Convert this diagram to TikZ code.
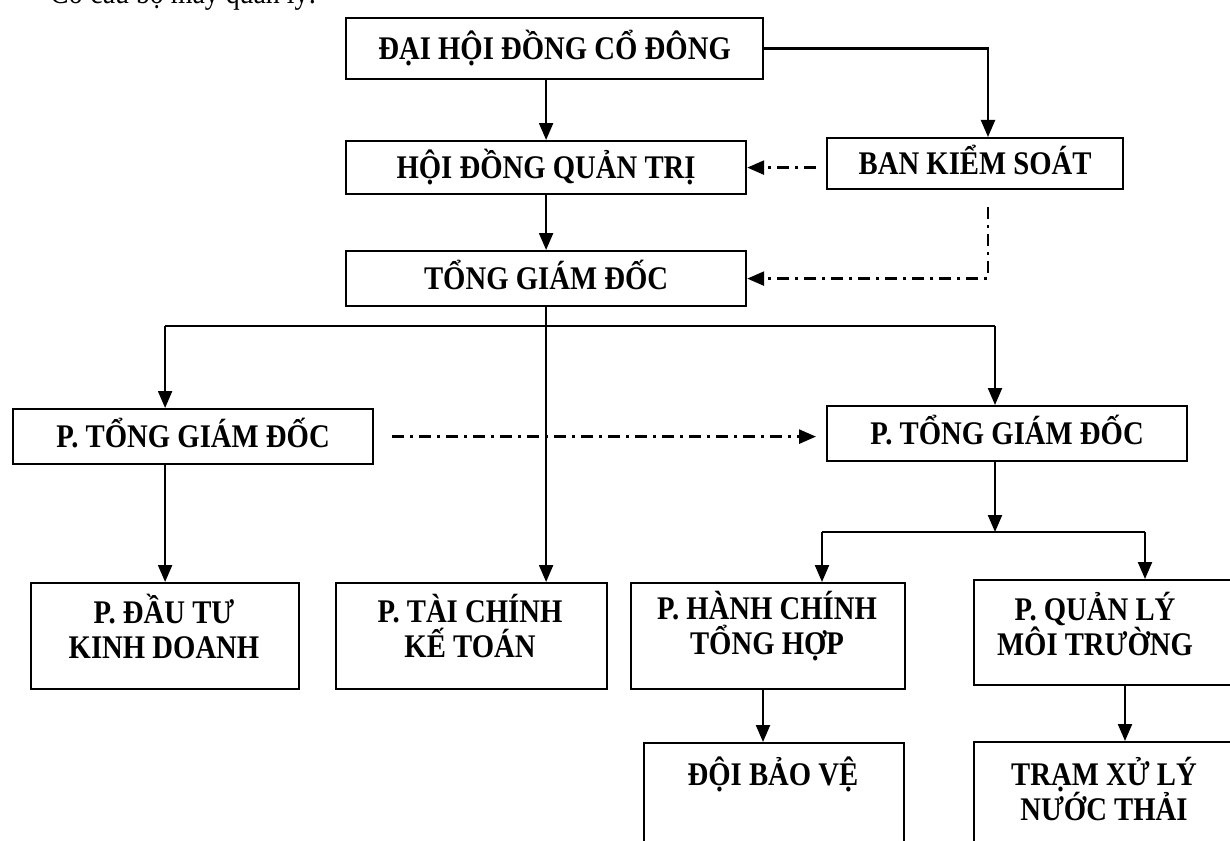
\documentclass[tikz,border=0pt]{standalone}
\usepackage{fontspec}
\setmainfont{Liberation Serif}
\newfontfamily\tallserif{Liberation Serif}[FakeStretch=0.87]
\usetikzlibrary{arrows.meta}
\begin{document}
\begin{tikzpicture}[x=1pt,y=-1pt,
  box/.style={draw, line width=2.2pt, inner sep=0pt, anchor=north west},
  one/.style={font=\tallserif\fontsize{33}{35}\selectfont\bfseries, text height=21.5pt, text depth=0pt},
  lbl/.style={font=\tallserif\fontsize{33}{35}\selectfont\bfseries, align=center, inner sep=0pt},
  ln/.style={line width=2.2pt},
  arr/.style={line width=2.2pt, -{Triangle[length=17pt,width=14pt]}},
  darr/.style={line width=2.6pt, dash pattern=on 12pt off 6pt on 3pt off 6pt, -{Triangle[length=17pt,width=14pt]}},
]
\useasboundingbox (0,0) rectangle (1230,840);
\fill[white] (0,0) rectangle (1230,840);

\node[anchor=base west, inner sep=0pt, font=\tallserif\fontsize{32}{34}\selectfont] (title) at (50,4) {Cơ cấu bộ máy quản lý:};

% top level boxes
\node[box, one, minimum width=417, minimum height=61] (dhd) at (345,17) {ĐẠI HỘI ĐỒNG CỔ ĐÔNG};
\node[box, one, minimum width=400, minimum height=53] (hdqt) at (345,140) {HỘI ĐỒNG QUẢN TRỊ};
\node[box, one, minimum width=296, minimum height=51] (bks) at (826,137) {BAN KIỂM SOÁT};
\node[box, one, minimum width=400, minimum height=55] (tgd) at (345,250) {TỔNG GIÁM ĐỐC};
\node[box, one, minimum width=360, minimum height=55] (ptl) at (12,408) {P. TỔNG GIÁM ĐỐC};
\node[box, one, minimum width=360, minimum height=55] (ptr) at (826,405) {P. TỔNG GIÁM ĐỐC};

% lower boxes
\node[box, minimum width=268, minimum height=106] (dtkd) at (30,582) {};
\node[box, minimum width=271, minimum height=106] (tckt) at (335,582) {};
\node[box, minimum width=274, minimum height=106] (hcth) at (630,582) {};
\node[box, minimum width=265, minimum height=105] (qlmt) at (973,579) {};
\node[box, minimum width=260, minimum height=120] (dbv) at (643,742) {};
\node[box, minimum width=265, minimum height=120] (txl) at (973,741) {};

\node[lbl] (dtkdT) at (164,626) {P. ĐẦU TƯ\\KINH DOANH};
\node[lbl] (tcktT) at (470,626) {P. TÀI CHÍNH\\KẾ TOÁN};
\node[lbl] (hcthT) at (767,626) {P. HÀNH CHÍNH\\TỔNG HỢP};
\node[lbl] (qlmtT) at (1095,624) {P. QUẢN LÝ\\MÔI TRƯỜNG};
\node[lbl, one] (dbvT) at (773,775) {ĐỘI BẢO VỆ};
\node[lbl] (txlT) at (1104,789) {TRẠM XỬ LÝ\\NƯỚC THẢI};

% junctions
\coordinate (j1) at (546,326);
\coordinate (jr) at (995,326);
\coordinate (j2) at (995,532);
\coordinate (bkx) at (988,0);
\coordinate (hx) at (822,0);
\coordinate (qx) at (1145,0);

% connectors
\draw[arr] (hdqt.north |- dhd.south) -- (hdqt.north);
\draw[arr] (dhd.east) -| (bkx |- bks.north);
\draw[darr] ([xshift=-10pt]bks.west |- hdqt.east) -- (hdqt.east);
\draw[arr] (hdqt.south) -- (tgd.north);
\draw[darr] ([yshift=-17pt]bkx |- bks.south) |- (tgd.east);

\draw[arr] (tgd.south) -- (tgd.south |- tckt.north);
\draw[ln] (dtkd.north |- j1) -- (jr);
\draw[arr] (dtkd.north |- j1) -- (dtkd.north |- ptl.north);
\draw[arr] (jr) -- (jr |- ptr.north);
\draw[darr] ([xshift=18pt]ptl.east) -- ([xshift=-10pt]ptr.west |- ptl.east);

\draw[arr] (dtkd.north |- ptl.south) -- (dtkd.north);
\draw[arr] (jr |- ptr.south) -- (j2);
\draw[ln] (hx |- j2) -- (qx |- j2);
\draw[arr] (hx |- j2) -- (hx |- hcth.north);
\draw[arr] (qx |- j2) -- (qx |- qlmt.north);

\draw[arr] (hcth.south -| 763,0) -- (dbv.north -| 763,0);
\draw[arr] (qlmt.south -| 1125,0) -- (txl.north -| 1125,0);
\end{tikzpicture}
\end{document}
